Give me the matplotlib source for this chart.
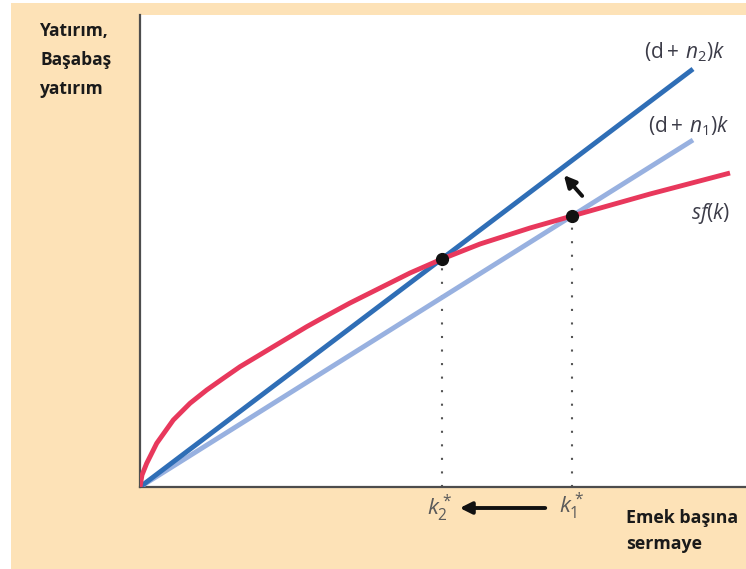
import matplotlib
matplotlib.use("Agg")
import matplotlib.pyplot as plt
from matplotlib.patches import Rectangle

plt.rcParams['font.family'] = ['Open Sans', 'DejaVu Sans']
plt.rcParams['mathtext.fontset'] = 'custom'
plt.rcParams['mathtext.rm'] = 'Open Sans'
plt.rcParams['mathtext.it'] = 'Open Sans:italic'

# ---- data ----
k_curve = [0, 0.02, 0.067, 0.167, 0.333, 0.50, 0.667, 0.833, 1.00, 1.167, 1.333,
           1.50, 1.667, 1.80, 2.10, 2.40, 2.70, 3.02, 3.40, 3.90, 4.32, 5.10, 5.90]
sf_curve = [0, 0.12, 0.237, 0.437, 0.67, 0.837, 0.97, 1.087, 1.203, 1.303, 1.403,
            1.503, 1.603, 1.677, 1.84, 1.99, 2.14, 2.28, 2.43, 2.59, 2.71, 2.93, 3.14]
line_k = [0, 5.53]
line_n2 = [0, 4.18]   # (d + n2)k
line_n1 = [0, 3.47]   # (d + n1)k
k_star = [3.02, 4.32]          # k2*, k1*
inv_star = [2.28, 2.71]
star_labels = [r"$k_2^*$", r"$k_1^*$"]
line_labels = [r"$(\mathrm{d}+\,n_2)k$", r"$(\mathrm{d}+\,n_1)k$", r"$sf(k)$"]
y_label = "Yatırım,\nBaşabaş\nyatırım"
x_label = "Emek başına\nsermaye"

RED = '#E8385C'
DBLUE = '#2F6EB6'
LBLUE = '#98B1E0'
PEACH = '#FDE2B7'
TXT = '#3c3c48'

fig = plt.figure(figsize=(7.46, 5.69), dpi=100)
fig.patch.set_facecolor('white')
fig.add_artist(Rectangle((11/746, 0), 1, 1 - 3/569, transform=fig.transFigure,
                         facecolor=PEACH, edgecolor='none', zorder=0))

ax = fig.add_axes([140/746, 1 - 487/569, 606/746, 472/569])
ax.set_facecolor('white')
ax.set_xlim(0, 6.06)
ax.set_ylim(0, 4.72)
for s in ['top', 'right']:
    ax.spines[s].set_visible(False)
for s in ['left', 'bottom']:
    ax.spines[s].set_color('#4d4d4d')
    ax.spines[s].set_linewidth(1.6)
ax.set_xticks([])
ax.set_yticks([])

# dotted verticals
for kk, yy in zip(k_star, inv_star):
    ax.plot([kk, kk], [0, yy], linestyle=(0, (1, 5.5)), color='#555555', lw=1.5, zorder=2)

ax.plot(line_k, line_n1, color=LBLUE, lw=3.5, solid_capstyle='butt', zorder=3)
ax.plot(line_k, line_n2, color=DBLUE, lw=3.5, solid_capstyle='butt', zorder=4)
ax.plot(k_curve, sf_curve, color=RED, lw=3.5, solid_joinstyle='round',
        solid_capstyle='butt', zorder=5)
ax.plot(k_star, inv_star, 'o', color='#111111', ms=8.5, zorder=6)

# arrow from steady state to new line
ax.annotate('', xy=(4.22, 3.14), xytext=(4.44, 2.89),
            arrowprops=dict(arrowstyle='-|>,head_length=0.7,head_width=0.35',
                            color='#111111', lw=2.8), zorder=7)

# line labels
ax.text(5.45, 4.35, line_labels[0], ha='center', va='center', fontsize=15, color=TXT)
ax.text(5.49, 3.61, line_labels[1], ha='center', va='center', fontsize=15, color=TXT)
ax.text(5.71, 2.74, line_labels[2], ha='center', va='center', fontsize=15, color=TXT)

# k* labels and arrow below axis
ax.text(k_star[0] - 0.03, -0.21, star_labels[0], ha='center', va='center',
        fontsize=16, color='#5a5a5a', clip_on=False)
ax.text(k_star[1] - 0.01, -0.19, star_labels[1], ha='center', va='center',
        fontsize=16, color='#5a5a5a', clip_on=False)
ax.annotate('', xy=(3.17, -0.21), xytext=(4.08, -0.21),
            xycoords='data', textcoords='data',
            arrowprops=dict(arrowstyle='-|>,head_length=0.7,head_width=0.35',
                            color='#111111', lw=2.8), annotation_clip=False)

fig.text(40/746, 1 - 60/569, y_label, ha='left', va='center', fontsize=12.5,
         fontweight='bold', color='#1a1a1a', linespacing=1.75)
fig.text(626/746, 1 - 531/569, x_label, ha='left', va='center', fontsize=12.8,
         fontweight='bold', color='#1a1a1a', linespacing=1.55)

fig.savefig('out.png', dpi=100, facecolor=fig.get_facecolor())
